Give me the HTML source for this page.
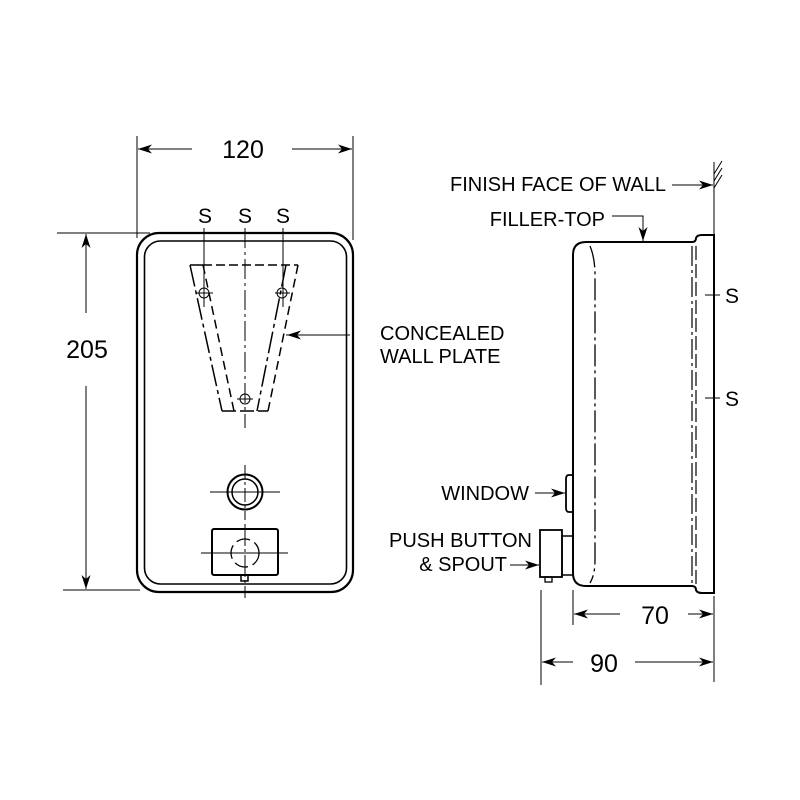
<!DOCTYPE html>
<html><head><style>
html,body{margin:0;padding:0;background:#fff;}
svg{display:block}
text{font-family:"Liberation Sans",Arial,sans-serif;fill:#000}
</style></head><body>
<svg width="800" height="800" viewBox="0 0 800 800" xmlns="http://www.w3.org/2000/svg">
<defs>
<marker id="ar" viewBox="0 0 14 9" refX="14" refY="4.5" markerWidth="14" markerHeight="9" markerUnits="userSpaceOnUse" orient="auto">
<path d="M0,0 L14,4.5 L0,9 L4,4.5 Z" fill="#000"/>
</marker>
</defs>
<g stroke="#000" fill="none">
<line x1="137" y1="136" x2="137" y2="238" stroke-width="1"/>
<line x1="353" y1="136" x2="353" y2="240" stroke-width="1"/>
<line x1="192" y1="149" x2="138" y2="149" marker-end="url(#ar)"/>
<line x1="292" y1="149" x2="352" y2="149" marker-end="url(#ar)"/>
<line x1="57" y1="233" x2="150" y2="233"/>
<line x1="63" y1="590" x2="140" y2="590"/>
<line x1="86" y1="313" x2="86" y2="234" marker-end="url(#ar)"/>
<line x1="86" y1="386" x2="86" y2="589" marker-end="url(#ar)"/>
<rect x="137" y="233" width="216" height="359" rx="22" stroke-width="2.2"/>
<rect x="144.5" y="241" width="202" height="343" rx="16" stroke-width="1.6"/>
<g stroke-width="1.5">
<line x1="190" y1="265" x2="203" y2="265"/>
<line x1="203" y1="265" x2="298" y2="265" stroke-dasharray="9,4"/>
<line x1="190" y1="265" x2="222" y2="411" stroke-dasharray="22,4,4,4"/>
<line x1="203" y1="265" x2="234" y2="411" stroke-dasharray="9,5"/>
<line x1="298" y1="265" x2="268" y2="411" stroke-dasharray="9,5"/>
<line x1="286" y1="265" x2="257" y2="411" stroke-dasharray="22,4,4,4"/>
<line x1="222" y1="411" x2="268" y2="411" stroke-dasharray="14,4"/>
</g>
<g stroke-width="1">
<line x1="245" y1="228" x2="245" y2="428" stroke-dasharray="20,4,3,4"/>
<line x1="204" y1="228" x2="204" y2="307"/>
<line x1="283" y1="228" x2="283" y2="307"/>
<circle cx="204" cy="293" r="5"/><line x1="197" y1="293" x2="213" y2="293"/>
<circle cx="282" cy="293" r="5"/><line x1="275" y1="293" x2="290" y2="293"/>
<circle cx="245" cy="399" r="5"/><line x1="237" y1="399" x2="253" y2="399"/>
<line x1="286" y1="335" x2="350" y2="335"/>
</g>
<line x1="302" y1="335" x2="287" y2="335" marker-end="url(#ar)"/>
<circle cx="245" cy="492" r="17.5" stroke-width="2"/>
<circle cx="245" cy="492" r="13" stroke-width="1.5"/>
<line x1="210" y1="492" x2="280" y2="492" stroke-width="1"/>
<line x1="245" y1="465" x2="245" y2="520" stroke-width="1" stroke-dasharray="14,3,3,3"/>
<rect x="212" y="529" width="66" height="46" rx="2" stroke-width="2"/>
<circle cx="245" cy="553" r="14" stroke-width="1.3" stroke-dasharray="14,5"/>
<line x1="201" y1="553" x2="288" y2="553" stroke-width="1"/>
<line x1="245" y1="524" x2="245" y2="598" stroke-width="1" stroke-dasharray="22,3,3,3"/>
<rect x="241" y="575" width="7" height="6" stroke-width="1.5"/>
<line x1="714" y1="162" x2="714" y2="234" stroke-width="1"/>
<line x1="714" y1="174" x2="722" y2="161"/><line x1="714" y1="181" x2="722" y2="168"/><line x1="714" y1="188" x2="722" y2="175"/>
<line x1="672" y1="185" x2="713" y2="185" marker-end="url(#ar)"/>
<path d="M612,216 H643 V236" />
<line x1="643" y1="225" x2="643" y2="241" marker-end="url(#ar)"/>
<path d="M586,242 H692 Q696,242 696,238 Q697,235 702,235 H714 V593 H702 Q697,593 696,590 Q696,586 692,586 H586 Q573,586 573,573 V255 Q573,242 586,242 Z" stroke-width="2"/>
<path d="M590,246 Q595,258 595,275 V560 Q595,575 590,583" stroke-width="1.3" stroke-dasharray="22,4,3,4"/>
<line x1="692" y1="246" x2="692" y2="584" stroke-width="1.2" stroke-dasharray="20,4,3,4"/>
<line x1="696" y1="246" x2="696" y2="584" stroke-width="1.2" stroke-dasharray="14,4"/>
<line x1="705" y1="295" x2="720" y2="295"/>
<line x1="705" y1="398" x2="720" y2="398"/>
<path d="M573,475 H569 Q566,475 566,479 V508 Q566,512 569,512 H573" stroke-width="1.8"/>
<line x1="535" y1="493" x2="565" y2="493" marker-end="url(#ar)"/>
<rect x="540" y="530" width="22" height="47" stroke-width="1.8"/>
<rect x="562" y="536" width="11" height="39" stroke-width="1.5"/>
<rect x="545" y="577" width="7" height="5" stroke-width="1.3"/>
<line x1="510" y1="565" x2="539" y2="565" marker-end="url(#ar)"/>
<line x1="541" y1="590" x2="541" y2="685"/>
<line x1="573" y1="590" x2="573" y2="625"/>
<line x1="714" y1="596" x2="714" y2="682"/>
<line x1="620" y1="614" x2="574" y2="614" marker-end="url(#ar)"/>
<line x1="688" y1="614" x2="713" y2="614" marker-end="url(#ar)"/>
<line x1="573" y1="662" x2="542" y2="662" marker-end="url(#ar)"/>
<line x1="635" y1="662" x2="713" y2="662" marker-end="url(#ar)"/>
</g>
<g font-size="25">
<text x="243" y="158" text-anchor="middle">120</text>
<text x="87" y="358" text-anchor="middle">205</text>
<text x="655" y="624" text-anchor="middle">70</text>
<text x="604" y="672" text-anchor="middle">90</text>
</g>
<g font-size="21">
<text x="205" y="223" text-anchor="middle">S</text>
<text x="245" y="223" text-anchor="middle">S</text>
<text x="283" y="223" text-anchor="middle">S</text>
<text x="725" y="303">S</text>
<text x="725" y="406">S</text>
</g>
<g font-size="20">
<text x="380" y="340">CONCEALED</text>
<text x="380" y="363">WALL PLATE</text>
<text x="666" y="191" text-anchor="end">FINISH FACE OF WALL</text>
<text x="605" y="226" text-anchor="end">FILLER-TOP</text>
<text x="529" y="500" text-anchor="end">WINDOW</text>
<text x="532" y="547" text-anchor="end">PUSH BUTTON</text>
<text x="507" y="571" text-anchor="end">&amp; SPOUT</text>
</g>
</svg>
</body></html>
